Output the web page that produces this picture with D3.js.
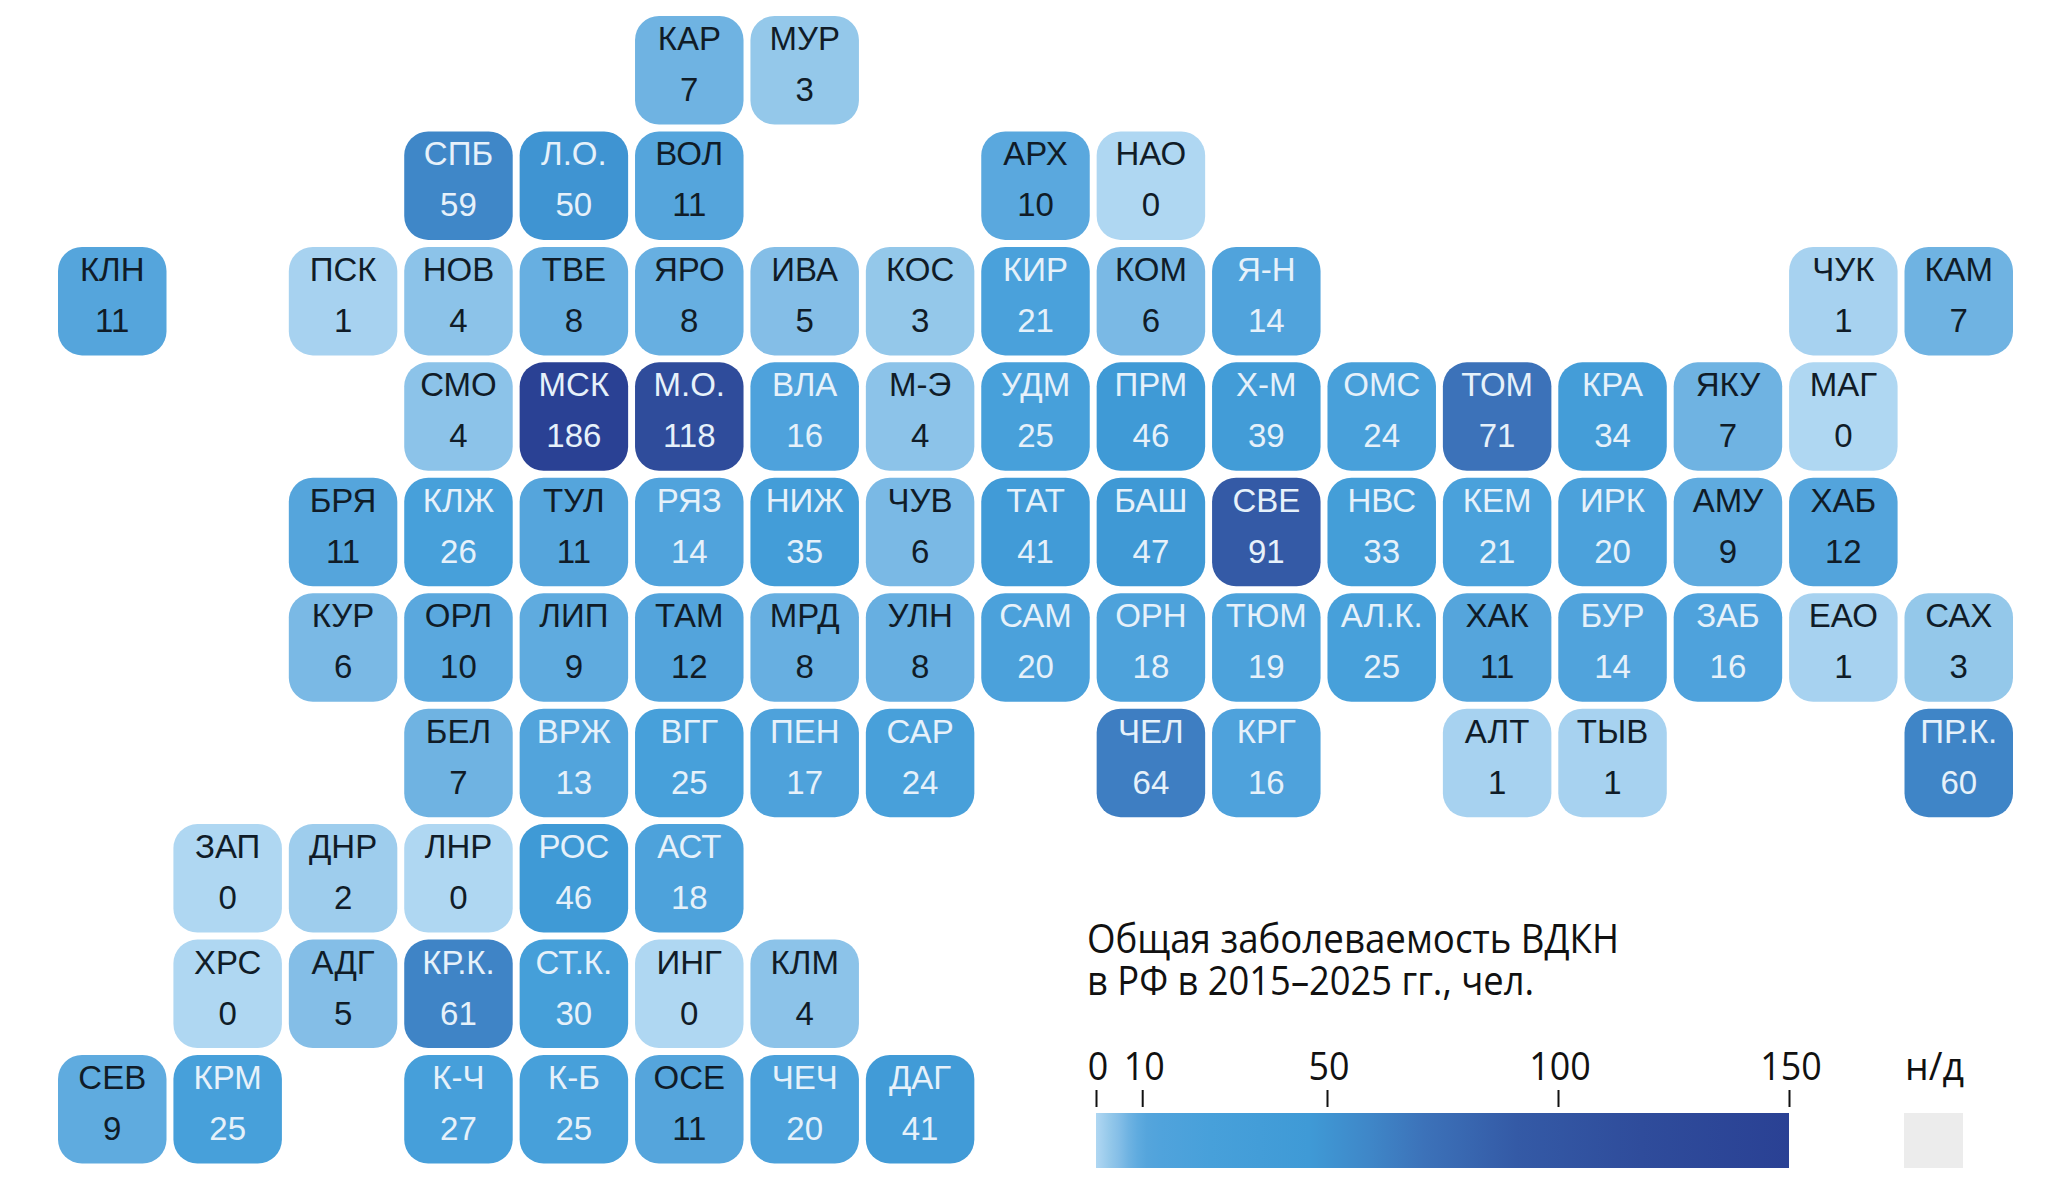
<!DOCTYPE html>
<html lang="ru">
<head>
<meta charset="utf-8">
<title>Общая заболеваемость ВДКН</title>
<script src="https://cdn.jsdelivr.net/npm/d3@7"></script>
<style>
  html, body { margin: 0; padding: 0; background: #fff; }
  svg { display: block; }
</style>
</head>
<body>
<div id="tile-map"></div>
<script>
// Region codes, listed row by row, with their column/row in the tile grid
const regionCodes = [
  "КАР", "МУР",
  "СПБ", "Л.О.", "ВОЛ", "АРХ", "НАО",
  "КЛН", "ПСК", "НОВ", "ТВЕ", "ЯРО", "ИВА", "КОС", "КИР", "КОМ", "Я-Н", "ЧУК", "КАМ",
  "СМО", "МСК", "М.О.", "ВЛА", "М-Э", "УДМ", "ПРМ", "Х-М", "ОМС", "ТОМ", "КРА", "ЯКУ", "МАГ",
  "БРЯ", "КЛЖ", "ТУЛ", "РЯЗ", "НИЖ", "ЧУВ", "ТАТ", "БАШ", "СВЕ", "НВС", "КЕМ", "ИРК", "АМУ", "ХАБ",
  "КУР", "ОРЛ", "ЛИП", "ТАМ", "МРД", "УЛН", "САМ", "ОРН", "ТЮМ", "АЛ.К.", "ХАК", "БУР", "ЗАБ", "ЕАО", "САХ",
  "БЕЛ", "ВРЖ", "ВГГ", "ПЕН", "САР", "ЧЕЛ", "КРГ", "АЛТ", "ТЫВ", "ПР.К.",
  "ЗАП", "ДНР", "ЛНР", "РОС", "АСТ",
  "ХРС", "АДГ", "КР.К.", "СТ.К.", "ИНГ", "КЛМ",
  "СЕВ", "КРМ", "К-Ч", "К-Б", "ОСЕ", "ЧЕЧ", "ДАГ"
];
const regionColumns = [
  5, 6,
  3, 4, 5, 8, 9,
  0, 2, 3, 4, 5, 6, 7, 8, 9, 10, 15, 16,
  3, 4, 5, 6, 7, 8, 9, 10, 11, 12, 13, 14, 15,
  2, 3, 4, 5, 6, 7, 8, 9, 10, 11, 12, 13, 14, 15,
  2, 3, 4, 5, 6, 7, 8, 9, 10, 11, 12, 13, 14, 15, 16,
  3, 4, 5, 6, 7, 9, 10, 12, 13, 16,
  1, 2, 3, 4, 5,
  1, 2, 3, 4, 5, 6,
  0, 1, 3, 4, 5, 6, 7
];
const regionRows = [
  0, 0,
  1, 1, 1, 1, 1,
  2, 2, 2, 2, 2, 2, 2, 2, 2, 2, 2, 2,
  3, 3, 3, 3, 3, 3, 3, 3, 3, 3, 3, 3, 3,
  4, 4, 4, 4, 4, 4, 4, 4, 4, 4, 4, 4, 4, 4,
  5, 5, 5, 5, 5, 5, 5, 5, 5, 5, 5, 5, 5, 5, 5,
  6, 6, 6, 6, 6, 6, 6, 6, 6, 6,
  7, 7, 7, 7, 7,
  8, 8, 8, 8, 8, 8,
  9, 9, 9, 9, 9, 9, 9
];
const regionValues = [
  7, 3,
  59, 50, 11, 10, 0,
  11, 1, 4, 8, 8, 5, 3, 21, 6, 14, 1, 7,
  4, 186, 118, 16, 4, 25, 46, 39, 24, 71, 34, 7, 0,
  11, 26, 11, 14, 35, 6, 41, 47, 91, 33, 21, 20, 9, 12,
  6, 10, 9, 12, 8, 8, 20, 18, 19, 25, 11, 14, 16, 1, 3,
  7, 13, 25, 17, 24, 64, 16, 1, 1, 60,
  0, 2, 0, 46, 18,
  0, 5, 61, 30, 0, 4,
  9, 25, 27, 25, 11, 20, 41
];

const legendTicks = [0, 10, 50, 100, 150];
const titleLines = ["Общая заболеваемость ВДКН", "в РФ в 2015–2025 гг., чел."];
const noDataLabel = "н/д";

const colorDomain = [0, 1, 3, 5, 7, 9, 11, 14, 25, 46, 59, 71, 91, 118, 150];
const colorRange = ["#afd7f2", "#a7d2f0", "#94c8ea", "#84bee7", "#6fb3e2", "#5fabdf", "#55a5dc",
  "#50a3dc", "#47a0da", "#3f9ad6", "#3f87c8", "#3c72b9", "#345aa6", "#2f4c9b", "#2a4194"];
const noDataColor = "#ececec";
const darkText = "#101c28";
const lightText = "#e6f1fa";
const lightTextThreshold = 13;

const width = 2052;
const height = 1186;
const tileSize = 108.5;
const tileRadius = 24;

const svg = d3.select("#tile-map")
  .append("svg")
    .attr("width", width)
    .attr("height", height)
    .attr("viewBox", `0, 0, ${width}, ${height}`);

/* Scales */
const xScale = d3.scaleLinear().domain([0, 16]).range([58, 1904.5]);
const yScale = d3.scaleLinear().domain([0, 9]).range([16, 1055]);
const colorScale = d3.scaleLinear()
  .domain(colorDomain)
  .range(colorRange)
  .clamp(true);

/* Tiles */
const tiles = svg.append("g")
  .selectAll("g")
  .data(d3.range(regionCodes.length))
  .join("g")
    .attr("transform", i => `translate(${xScale(regionColumns[i])}, ${yScale(regionRows[i])})`);

tiles.append("rect")
  .attr("width", tileSize)
  .attr("height", tileSize)
  .attr("rx", tileRadius)
  .attr("ry", tileRadius)
  .attr("fill", i => colorScale(regionValues[i]));

const tileText = tiles.append("g")
  .attr("text-anchor", "middle")
  .attr("font-family", "'Liberation Sans', Arial, sans-serif")
  .attr("font-size", 33)
  .attr("fill", i => regionValues[i] >= lightTextThreshold ? lightText : darkText);

tileText.append("text")
  .attr("x", tileSize / 2)
  .attr("y", 34)
  .text(i => regionCodes[i]);

tileText.append("text")
  .attr("x", tileSize / 2)
  .attr("y", 85)
  .text(i => regionValues[i]);

/* Legend */
const legendX = d3.scaleLinear().domain([0, 150]).range([1096, 1789]);
const legendTop = 1113;
const legendHeight = 55;
const legendFont = "'Open Sans', 'Noto Sans', sans-serif";

const gradient = svg.append("defs")
  .append("linearGradient")
    .attr("id", "legend-gradient")
    .attr("x1", 0)
    .attr("x2", 1)
    .attr("y1", 0)
    .attr("y2", 0);
gradient.selectAll("stop")
  .data(colorDomain)
  .join("stop")
    .attr("offset", d => d / 150)
    .attr("stop-color", d => colorScale(d));

svg.append("rect")
  .attr("x", legendX(0))
  .attr("y", legendTop)
  .attr("width", legendX(150) - legendX(0))
  .attr("height", legendHeight)
  .attr("fill", "url(#legend-gradient)");

const legendAxis = d3.axisTop(legendX)
  .tickValues(legendTicks)
  .tickFormat(d3.format("d"))
  .tickSize(17)
  .tickPadding(10);

const legendAxisGroup = svg.append("g")
  .attr("transform", `translate(0, 1107)`)
  .call(legendAxis);
legendAxisGroup.select(".domain").remove();
legendAxisGroup.selectAll(".tick line")
  .attr("stroke", "#111")
  .attr("stroke-width", 2);
legendAxisGroup.selectAll(".tick text")
  .attr("font-family", legendFont)
  .attr("font-size", 39)
  .attr("fill", "#111")
  .attr("dx", 1.5)
  .attr("textLength", d => String(d).length * 20.5)
  .attr("lengthAdjust", "spacingAndGlyphs");

svg.append("rect")
  .attr("x", 1904)
  .attr("y", legendTop)
  .attr("width", 59)
  .attr("height", legendHeight)
  .attr("fill", noDataColor);

svg.append("text")
  .text(noDataLabel)
  .attr("x", 1905)
  .attr("y", 1080)
  .attr("font-family", legendFont)
  .attr("font-size", 39)
  .attr("fill", "#111")
  .attr("textLength", 59)
  .attr("lengthAdjust", "spacingAndGlyphs");

/* Title */
const titleWidths = [532, 447];
svg.append("g")
  .selectAll("text")
  .data(titleLines)
  .join("text")
    .text(d => d)
    .attr("x", 1087)
    .attr("y", (d, i) => 953 + i * 42)
    .attr("font-family", legendFont)
    .attr("font-size", 41)
    .attr("fill", "#111")
    .attr("textLength", (d, i) => titleWidths[i])
    .attr("lengthAdjust", "spacingAndGlyphs");
</script>
</body>
</html>
